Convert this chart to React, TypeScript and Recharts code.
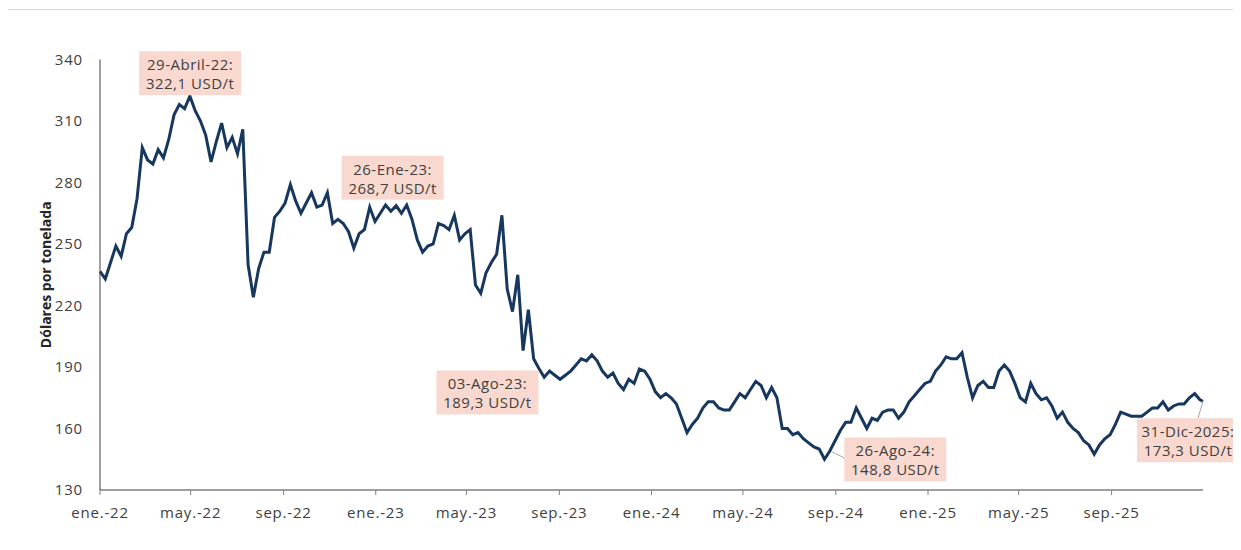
import { LineChart, Line, XAxis, YAxis, ReferenceDot } from "recharts"

// dias contados desde el 1-ene-2022
const START = Date.UTC(2022, 0, 1)
const dayOf = (y: number, m: number, d: number) => (Date.UTC(y, m - 1, d) - START) / 86400000

// precio semanal (USD/t), una lectura cada 7 dias
const weekly2022 = [
  236.6, 233, 241, 249, 244, 255, 258, 272, 297, 291,
  289, 296, 292, 301, 313, 318, 316, 322.1, 315, 310,
  303, 290, 300, 309, 297, 302, 294, 306, 240, 224,
  238, 246, 246, 263, 266, 270, 279, 271, 265, 270,
  275, 268, 269, 275, 260, 262, 260, 256, 248, 255,
  257, 268,
]
const weekly2023 = [
  261, 265, 269, 266, 268.7, 265, 269, 262, 252, 246,
  249, 250, 260, 259, 257, 264, 252, 255, 257, 230,
  226, 236, 241, 245, 264, 228, 217, 235, 198, 218,
  194, 189.3, 185, 188, 186, 184, 186, 188, 191, 194,
  193, 196, 193, 188, 185, 187, 182, 179, 184, 182,
  189, 188,
]
const weekly2024 = [
  184, 178, 175, 177, 175, 172, 165, 158, 162, 165,
  170, 173, 173, 170, 169, 169, 173, 177, 175, 179,
  183, 181, 175, 180, 175, 160, 160, 157, 158, 155,
  153, 151, 150, 145, 149, 154, 159, 163, 163, 170,
  165, 160, 165, 164, 168, 169, 169, 165, 168, 173,
  176, 179,
]
const weekly2025 = [
  182, 183, 188, 191, 195, 194, 194, 197, 185, 175,
  181, 183, 180, 180, 188, 191, 188, 182, 175, 173,
  182, 177, 174, 175, 171, 165, 168, 163, 160, 158,
  154, 152, 147.5, 152, 155, 157, 162, 168, 167, 166,
  166, 166, 168, 170, 170, 173, 169, 171, 172, 172,
  175, 177, 174,
]
const lastClose = 173.3

const tickMonths: [number, number][] = [
  [2022, 1], [2022, 5], [2022, 9], [2023, 1], [2023, 5], [2023, 9],
  [2024, 1], [2024, 5], [2024, 9], [2025, 1], [2025, 5], [2025, 9],
]
const tickLabels = [
  "ene.-22", "may.-22", "sep.-22", "ene.-23", "may.-23", "sep.-23",
  "ene.-24", "may.-24", "sep.-24", "ene.-25", "may.-25", "sep.-25",
]
const yTicks = [130, 160, 190, 220, 250, 280, 310, 340]

const calloutNames = ["29-Abril-22", "26-Ene-23", "03-Ago-23", "26-Ago-24", "31-Dic-2025"]
const calloutDates: [number, number, number][] = [
  [2022, 4, 29], [2023, 1, 26], [2023, 8, 3], [2024, 8, 26], [2025, 12, 31],
]
const calloutValues = [322.1, 268.7, 189.3, 148.8, 173.3]

// donde va cada recuadro respecto del punto (px)
const calloutBoxes = [
  { dx: 1, dy: -23, leader: null },
  { dx: -2, dy: -28, leader: null },
  { dx: -50, dy: 24, leader: null },
  { dx: 64, dy: 8, leader: [16, 8] },
  { dx: -15, dy: 39, leader: [-5, 17] },
]

const data = [...weekly2022, ...weekly2023, ...weekly2024, ...weekly2025].map((v, i) => ({
  day: i * 7,
  price: v,
}))
data.push({ day: dayOf(2025, 12, 31), price: lastClose })

const tickDays = tickMonths.map(([y, m]) => dayOf(y, m, 1))

const fmt = (v: number) => v.toFixed(1).replace(".", ",")

const txt = { fill: "#404040", fontSize: 15, letterSpacing: 0.8 }
const boxTxt = { fill: "#404040", fontSize: 15, letterSpacing: 0.5 }

function Callout(props: any) {
  const { cx, cy, title, value, box } = props
  if (cx == null || cy == null) return null
  const bx = cx + box.dx
  const by = cy + box.dy
  return (
    <g>
      {box.leader && (
        <line x1={cx} y1={cy} x2={cx + box.leader[0]} y2={cy + box.leader[1]} stroke="#a6a6a6" strokeWidth={1} />
      )}
      <rect x={bx - 51} y={by - 22} width={102} height={44} fill="#f9d9cf" />
      <text x={bx} y={by - 9} textAnchor="middle" dominantBaseline="central" style={boxTxt}>
        {title}:
      </text>
      <text x={bx} y={by + 10} textAnchor="middle" dominantBaseline="central" style={boxTxt}>
        {fmt(value)} USD/t
      </text>
    </g>
  )
}

function AxisTitle(props: any) {
  const { viewBox } = props
  const x = viewBox.x + 5
  const y = viewBox.y + viewBox.height / 2
  return (
    <text
      x={x}
      y={y}
      transform={`rotate(-90 ${x} ${y})`}
      textAnchor="middle"
      dominantBaseline="central"
      fontSize={14}
      fontWeight={700}
      fill="#262626"
    >
      Dólares por tonelada
    </text>
  )
}

export default function App() {
  return (
    <div
      style={{
        marginLeft: -1,
        marginTop: 1,
        width: 1240,
        height: 560,
        border: "1px solid #d9d9d9",
        boxSizing: "border-box",
        overflow: "hidden",
        background: "#fff",
      }}
    >
      <LineChart
        width={1233}
        height={530}
        data={data}
        margin={{ top: 49.5, right: 38, bottom: 20, left: 32 }}
        style={{ fontFamily: "'Open Sans', sans-serif" }}
      >
        <XAxis
          dataKey="day"
          type="number"
          domain={[0, dayOf(2025, 12, 31)]}
          ticks={tickDays}
          interval={0}
          tickFormatter={(d: number) => tickLabels[tickDays.indexOf(d)] ?? ""}
          tickSize={5}
          tickMargin={12}
          height={30}
          axisLine={{ stroke: "#7f7f7f", strokeWidth: 1.5 }}
          tickLine={{ stroke: "#7f7f7f" }}
          tick={txt}
        />
        <YAxis
          type="number"
          domain={[130, 340]}
          ticks={yTicks}
          interval={0}
          width={60}
          tickLine={false}
          tickMargin={11}
          axisLine={{ stroke: "#404040", strokeWidth: 1 }}
          tick={txt}
          label={{ content: AxisTitle }}
        />
        <Line
          type="linear"
          dataKey="price"
          stroke="#17375e"
          strokeWidth={3}
          dot={false}
          activeDot={false}
          isAnimationActive={false}
        />
        {calloutNames.map((name, i) => (
          <ReferenceDot
            key={name}
            x={dayOf(...calloutDates[i])}
            y={calloutValues[i]}
            r={0}
            ifOverflow="visible"
            shape={(p: any) => (
              <Callout cx={p.cx} cy={p.cy} title={name} value={calloutValues[i]} box={calloutBoxes[i]} />
            )}
          />
        ))}
      </LineChart>
    </div>
  )
}
